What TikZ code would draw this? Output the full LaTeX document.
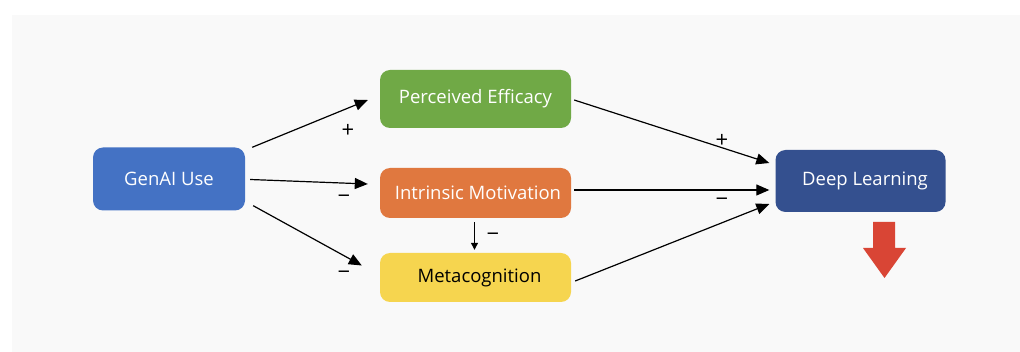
\documentclass[tikz,border=0pt]{standalone}
\usepackage{fontspec}
\setmainfont{Open Sans}
\usetikzlibrary{arrows.meta,calc}

\definecolor{panelgrey}{HTML}{F9F9F9}
\definecolor{genblue}{HTML}{4472C4}
\definecolor{effgreen}{HTML}{70A946}
\definecolor{motorange}{HTML}{E0783F}
\definecolor{metayellow}{HTML}{F6D54F}
\definecolor{deepnavy}{HTML}{34508F}
\definecolor{downred}{HTML}{D94535}

\begin{document}
\begin{tikzpicture}[x=1pt,y=-1pt,
  box/.style={rounded corners=10pt, inner sep=0pt, text=white,
    font=\fontsize{18.5}{22}\selectfont},
  link/.style={line width=1.2pt, -{Triangle[length=13pt,width=11pt]}},
  shortlink/.style={line width=1.1pt, -{Triangle[length=7pt,width=7pt]}},
  sign/.style={inner sep=0pt, font=\fontsize{22}{24}\selectfont}]

\useasboundingbox (0,0) rectangle (1020,352);
\fill[white] (0,0) rectangle (1020,352);
\fill[panelgrey] (12,15) rectangle (1020,352);

% boxes
\node[box, fill=genblue, minimum width=152pt, minimum height=63pt] (gen) at (169,179) {GenAI Use};
\node[box, fill=effgreen, minimum width=191pt, minimum height=58pt] (pe) at (475.5,99) {Perceived Efficacy};
\node[box, fill=motorange, minimum width=191pt, minimum height=50pt] (im) at (475.5,193) {\hspace*{5pt}Intrinsic Motivation};
\node[box, fill=metayellow, text=black, minimum width=191pt, minimum height=49pt] (mc) at (475.5,277.5) {\hspace*{8pt}Metacognition};
\node[box, fill=deepnavy, minimum width=170pt, minimum height=62pt] (dl) at (860.5,181) {\hspace*{9pt}Deep Learning};

% paths
\draw[link] ($(gen.north east)+(7,0)$) -- ($(pe.west)+(-12,1)$);
\draw[link] ($(gen.east)+(5,0.5)$) -- ($(im.west)+(-12,-9)$);
\draw[link] ($(gen.south east)+(8,-5)$) -- ($(mc.west)+(-18,-12)$);
\draw[shortlink] ($(im.south)+(-1,4)$) -- ($(mc.north)+(-1,-3)$);
\draw[link] ($(pe.east)+(3,1)$) -- ($(dl.west)+(-6,-18)$);
\draw[link] ($(im.east)+(3,-3)$) -- ($(dl.west)+(-6,9)$);
\draw[link] ($(mc.east)+(4,3.5)$) -- ($(dl.west)+(-6,23)$);

% signs
\node[sign] (s1) at (348,131) {+};
\node[sign] (s2) at (344,199) {−};
\node[sign] (s3) at (344,275) {−};
\node[sign] (s4) at (493,237) {−};
\node[sign] (s5) at (722,141) {+};
\node[sign] (s6) at (722,202) {−};

% downward trend arrow
\fill[downred] (873,222) -- (895,222) -- (895,248) -- (906,248) -- (884.5,278)
  -- (863,248) -- (873,248) -- cycle;
\end{tikzpicture}
\end{document}
